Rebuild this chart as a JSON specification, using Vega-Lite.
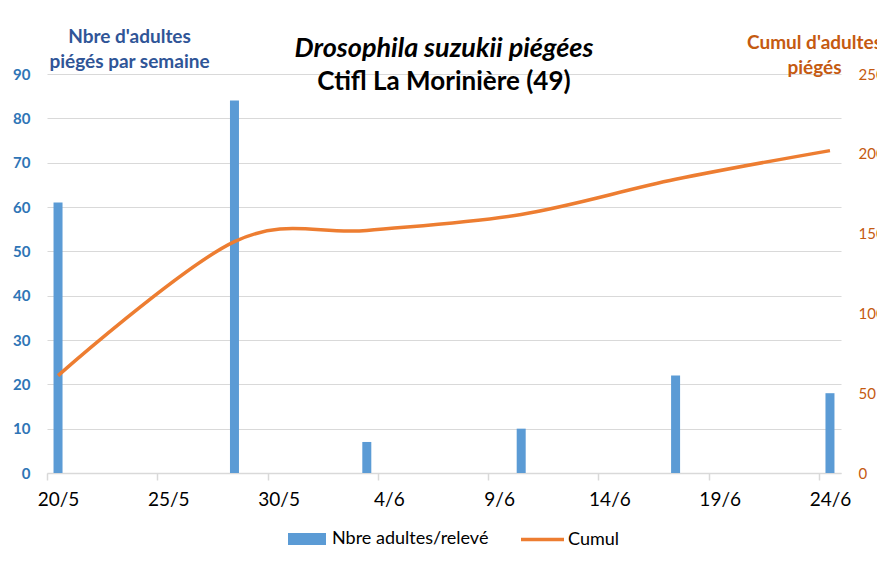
{
  "$schema": "https://vega.github.io/schema/vega-lite/v6.json",
  "width": 794,
  "height": 399,
  "autosize": {"type": "none"},
  "padding": {"left": 47, "top": 74, "right": 36, "bottom": 90},
  "background": "white",
  "config": {"font": "Lato", "view": {"stroke": null}},
  "title": {
    "text": "Drosophila suzukii piégées",
    "subtitle": "Ctifl La Morinière (49)",
    "font": "Lato",
    "fontSize": 27,
    "fontWeight": "bold",
    "fontStyle": "italic",
    "color": "black",
    "subtitleFont": "Lato",
    "subtitleFontSize": 26,
    "subtitleFontWeight": "bold",
    "subtitleColor": "black",
    "subtitlePadding": 6,
    "anchor": "middle",
    "frame": "group",
    "offset": -69
  },
  "data": {
    "values": [
      {"date": "2019-05-20T00:00:00", "count": 61, "cumul": 61},
      {"date": "2019-05-28T00:00:00", "count": 84, "cumul": 145},
      {"date": "2019-06-03T00:00:00", "count": 7, "cumul": 152},
      {"date": "2019-06-10T00:00:00", "count": 10, "cumul": 162},
      {"date": "2019-06-17T00:00:00", "count": 22, "cumul": 184},
      {"date": "2019-06-24T00:00:00", "count": 18, "cumul": 202}
    ]
  },
  "layer": [
    {
      "mark": {"type": "bar", "size": 9},
      "encoding": {
        "x": {
          "field": "date",
          "type": "temporal",
          "scale": {
            "padding": 0,
            "domain": [
              {"year": 2019, "month": 5, "date": 19, "hours": 12},
              {"year": 2019, "month": 6, "date": 24, "hours": 12}
            ]
          },
          "axis": {
            "title": null,
            "values": [
              {"year": 2019, "month": 5, "date": 20},
              {"year": 2019, "month": 5, "date": 25},
              {"year": 2019, "month": 5, "date": 30},
              {"year": 2019, "month": 6, "date": 4},
              {"year": 2019, "month": 6, "date": 9},
              {"year": 2019, "month": 6, "date": 14},
              {"year": 2019, "month": 6, "date": 19},
              {"year": 2019, "month": 6, "date": 24}
            ],
            "format": "%-d/%-m",
            "grid": false,
            "domainColor": "#d9d9d9",
            "domainWidth": 1.5,
            "tickColor": "#d9d9d9",
            "tickWidth": 1.5,
            "tickSize": 7,
            "tickOffset": -11,
            "labelOffset": 11,
            "labelFont": "Lato",
            "labelFontSize": 19,
            "labelColor": "black",
            "labelPadding": 10
          }
        },
        "y": {
          "field": "count",
          "type": "quantitative",
          "scale": {"domain": [0, 90]},
          "axis": {
            "values": [0, 10, 20, 30, 40, 50, 60, 70, 80, 90],
            "grid": true,
            "gridColor": "#d9d9d9",
            "gridWidth": 1.2,
            "domain": false,
            "ticks": false,
            "labelFont": "Lato",
            "labelFontSize": 15,
            "labelFontWeight": "bold",
            "labelColor": "#2E75B6",
            "labelPadding": 17,
            "title": ["Nbre d'adultes", "piégés par semaine"],
            "titleFont": "Lato",
            "titleFontSize": 19,
            "titleFontWeight": "bold",
            "titleColor": "#2F5597",
            "titleAngle": 0,
            "titleAlign": "center",
            "titleBaseline": "top",
            "titleLineHeight": 25,
            "titleX": 82,
            "titleY": -47
          }
        },
        "color": {
          "datum": "Nbre adultes/relevé",
          "scale": {"range": ["#5B9BD5"]},
          "legend": {
            "orient": "none",
            "legendX": 241,
            "legendY": 446,
            "title": null,
            "padding": 0,
            "symbolType": "M-1,-0.316H1V0.316H-1Z",
            "symbolSize": 1444,
            "symbolStrokeWidth": 0,
            "labelFont": "Lato",
            "labelFontSize": 18,
            "labelColor": "black",
            "labelOffset": 6
          }
        }
      }
    },
    {
      "mark": {"type": "line", "interpolate": "cardinal", "strokeWidth": 3.5},
      "encoding": {
        "x": {"field": "date", "type": "temporal"},
        "y": {
          "field": "cumul",
          "type": "quantitative",
          "scale": {"domain": [0, 250]},
          "axis": {
            "orient": "right",
            "values": [0, 50, 100, 150, 200, 250],
            "grid": false,
            "domain": false,
            "ticks": false,
            "labelFont": "Lato",
            "labelFontSize": 15,
            "labelColor": "#C55A11",
            "labelPadding": 17,
            "title": ["Cumul d'adultes", "piégés"],
            "titleFont": "Lato",
            "titleFontSize": 19,
            "titleFontWeight": "bold",
            "titleColor": "#C55A11",
            "titleAngle": 0,
            "titleAlign": "center",
            "titleBaseline": "top",
            "titleLineHeight": 25,
            "titleX": -27,
            "titleY": -41
          }
        },
        "stroke": {
          "datum": "Cumul",
          "scale": {"range": ["#ED7D31"]},
          "legend": {
            "orient": "none",
            "legendX": 472,
            "legendY": 442,
            "title": null,
            "padding": 0,
            "symbolType": "stroke",
            "symbolSize": 1849,
            "symbolStrokeWidth": 3.5,
            "labelFont": "Lato",
            "labelFontSize": 18,
            "labelColor": "black",
            "labelOffset": 2
          }
        }
      }
    }
  ],
  "resolve": {"scale": {"y": "independent"}}
}
